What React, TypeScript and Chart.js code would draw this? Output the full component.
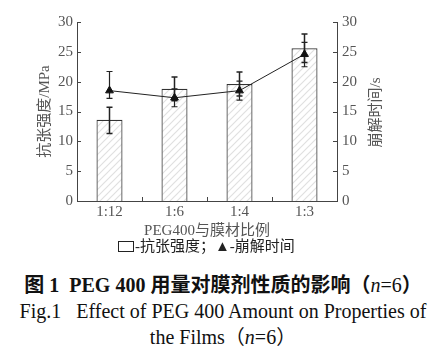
import React, { useEffect, useRef } from "react";
import { Chart, registerables } from "chart.js";

Chart.register(...registerables);

const categories = ["1:12", "1:6", "1:4", "1:3"];
const tensile = [13.6, 18.8, 19.6, 25.6];
const tensileLow = [11.3, 16.8, 17.6, 23.2];
const tensileHigh = [15.7, 20.8, 21.6, 28.0];
const disintegration = [18.5, 17.3, 18.5, 24.6];
const disintegrationLow = [17.2, 15.8, 16.9, 22.5];
const disintegrationHigh = [21.7, 18.8, 20.1, 26.6];
const yTicks = [0, 5, 10, 15, 20, 25, 30];

const SERIF = "'Liberation Serif', 'Times New Roman', 'Noto Sans CJK SC', serif";

function makeHatch(): CanvasPattern | string {
  const c = document.createElement("canvas");
  c.width = 7;
  c.height = 7;
  const g = c.getContext("2d");
  if (!g) return "#fff";
  g.fillStyle = "#ffffff";
  g.fillRect(0, 0, 7, 7);
  g.strokeStyle = "#e0e0e0";
  g.lineWidth = 1.2;
  g.beginPath();
  g.moveTo(-1, 8);
  g.lineTo(8, -1);
  g.moveTo(-1, 1);
  g.lineTo(1, -1);
  g.moveTo(6, 8);
  g.lineTo(8, 6);
  g.stroke();
  const p = g.createPattern(c, "repeat");
  return p || "#fff";
}

const errorPlugin = {
  id: "errorBars",
  beforeDatasetDraw(chart: any, args: any) {
    if (args.index !== 1) return;
    const { ctx, scales } = chart;
    const x = scales.x;
    const y = scales.y;
    const y1 = scales.y1;
    ctx.save();
    ctx.strokeStyle = "#222";
    const draw = (lows: number[], highs: number[], sc: any, lw: number) => {
      ctx.lineWidth = lw;
      lows.forEach((lo, i) => {
        const cx = x.getPixelForValue(i);
        const pl = sc.getPixelForValue(lo);
        const ph = sc.getPixelForValue(highs[i]);
        ctx.beginPath();
        ctx.moveTo(cx, pl);
        ctx.lineTo(cx, ph);
        ctx.moveTo(cx - 3, pl);
        ctx.lineTo(cx + 3, pl);
        ctx.moveTo(cx - 3, ph);
        ctx.lineTo(cx + 3, ph);
        ctx.stroke();
      });
    };
    draw(tensileLow, tensileHigh, y, 1.5);
    draw(disintegrationLow, disintegrationHigh, y1, 1.2);
    ctx.restore();
  },
};

const decorPlugin = {
  id: "decor",
  afterDraw(chart: any) {
    const { ctx, chartArea, scales } = chart;
    const { left, right, top, bottom } = chartArea;
    ctx.save();
    ctx.strokeStyle = "#444";
    ctx.lineWidth = 1;
    ctx.beginPath();
    yTicks.forEach((v) => {
      const py = Math.round(scales.y.getPixelForValue(v)) + 0.5;
      ctx.moveTo(left, py);
      ctx.lineTo(left + 4, py);
      const py1 = Math.round(scales.y1.getPixelForValue(v)) + 0.5;
      ctx.moveTo(right, py1);
      ctx.lineTo(right - 4, py1);
    });
    for (let i = 0; i < categories.length - 1; i++) {
      const px = Math.round((scales.x.getPixelForValue(i) + scales.x.getPixelForValue(i + 1)) / 2) + 0.5;
      ctx.moveTo(px, bottom);
      ctx.lineTo(px, bottom - 4);
    }
    ctx.stroke();
    ctx.fillStyle = "#555";
    ctx.font = "15px " + SERIF;
    ctx.textAlign = "center";
    ctx.textBaseline = "middle";
    ctx.translate(376, (top + bottom) / 2 + 1);
    ctx.rotate(-Math.PI / 2);
    ctx.fillText("崩解时间/s", 0, 0);
    ctx.restore();
  },
};

export default function App() {
  const ref = useRef<HTMLCanvasElement | null>(null);

  useEffect(() => {
    if (!ref.current) return;
    const hatch = makeHatch();
    const tickFont = { family: SERIF, size: 15 };
    const chart = new Chart(ref.current, {
      type: "bar",
      data: {
        labels: categories,
        datasets: [
          {
            type: "bar",
            label: "抗张强度",
            data: tensile,
            yAxisID: "y",
            backgroundColor: hatch as any,
            borderColor: "#333",
            borderWidth: 1.2,
            barPercentage: 0.4,
            categoryPercentage: 1,
            order: 2,
          },
          {
            type: "line",
            label: "崩解时间",
            data: disintegration,
            yAxisID: "y1",
            borderColor: "#222",
            borderWidth: 1,
            pointStyle: "triangle",
            pointRadius: 4.5,
            pointBackgroundColor: "#111",
            pointBorderColor: "#111",
            tension: 0,
            order: 1,
          } as any,
        ],
      },
      options: {
        responsive: false,
        animation: false,
        layout: { padding: { top: 22, left: 0, right: 0, bottom: 0 } },
        plugins: { legend: { display: false }, tooltip: { enabled: false } },
        scales: {
          x: {
            grid: { display: false, drawTicks: false },
            border: { display: true, color: "#444", width: 1 },
            ticks: { color: "#555", font: tickFont, padding: 2 },
            title: {
              display: true,
              text: "PEG400与膜材比例",
              color: "#555",
              font: { family: SERIF, size: 15 },
              padding: { top: 0, bottom: 0 },
            },
            afterFit: (s: any) => {
              s.height = 39;
            },
          },
          y: {
            position: "left",
            min: 0,
            max: 30,
            grid: { display: false, drawTicks: false },
            border: { display: true, color: "#444", width: 1 },
            ticks: { stepSize: 5, color: "#555", font: tickFont, padding: 4 },
            title: {
              display: true,
              text: "抗张强度/MPa",
              color: "#555",
              font: { family: SERIF, size: 15 },
              padding: { top: 36, bottom: 0 },
            },
            afterFit: (s: any) => {
              s.width = 77;
            },
          },
          y1: {
            position: "right",
            min: 0,
            max: 30,
            grid: { display: false, drawTicks: false },
            border: { display: true, color: "#444", width: 1 },
            ticks: { stepSize: 5, color: "#555", font: tickFont, padding: 5 },
            afterFit: (s: any) => {
              s.width = 109;
            },
          },
        },
      } as any,
      plugins: [errorPlugin, decorPlugin],
    });
    return () => chart.destroy();
  }, []);

  return (
    <div
      style={{
        position: "fixed",
        left: 0,
        top: 0,
        width: 446,
        height: 353,
        background: "#fff",
        overflow: "hidden",
        fontFamily: SERIF,
        color: "#111",
      }}
    >
      <canvas ref={ref} width={446} height={240} style={{ display: "block", width: 446, height: 240 }} />
      <div
        style={{
          position: "absolute",
          left: 118,
          top: 237,
          fontSize: 15,
          lineHeight: "18px",
          whiteSpace: "nowrap",
          color: "#222",
        }}
      >
        <span
          style={{
            display: "inline-block",
            width: 14,
            height: 9,
            border: "1.5px solid #222",
            verticalAlign: "-1px",
            marginRight: 1,
          }}
        />
        -抗张强度；▲-崩解时间
      </div>
      <div
        style={{
          position: "absolute",
          left: 0,
          top: 274,
          width: 446,
          textAlign: "center",
          fontSize: 20,
          lineHeight: "22px",
          fontWeight: "bold",
          whiteSpace: "nowrap",
        }}
      >
        图 1&nbsp;&nbsp;PEG 400 用量对膜剂性质的影响（<i style={{ fontWeight: "normal" }}>n</i>
        <span style={{ fontWeight: "normal" }}>=6</span>）
      </div>
      <div
        style={{
          position: "absolute",
          left: 0,
          top: 300,
          width: 446,
          textAlign: "center",
          fontSize: 20,
          lineHeight: "22px",
          whiteSpace: "nowrap",
        }}
      >
        Fig.1&nbsp;&nbsp;&nbsp;Effect of PEG 400 Amount on Properties of
      </div>
      <div
        style={{
          position: "absolute",
          left: 0,
          top: 326,
          width: 446,
          textAlign: "center",
          fontSize: 20,
          lineHeight: "22px",
          whiteSpace: "nowrap",
        }}
      >
        the Films（<i>n</i>=6）
      </div>
    </div>
  );
}
